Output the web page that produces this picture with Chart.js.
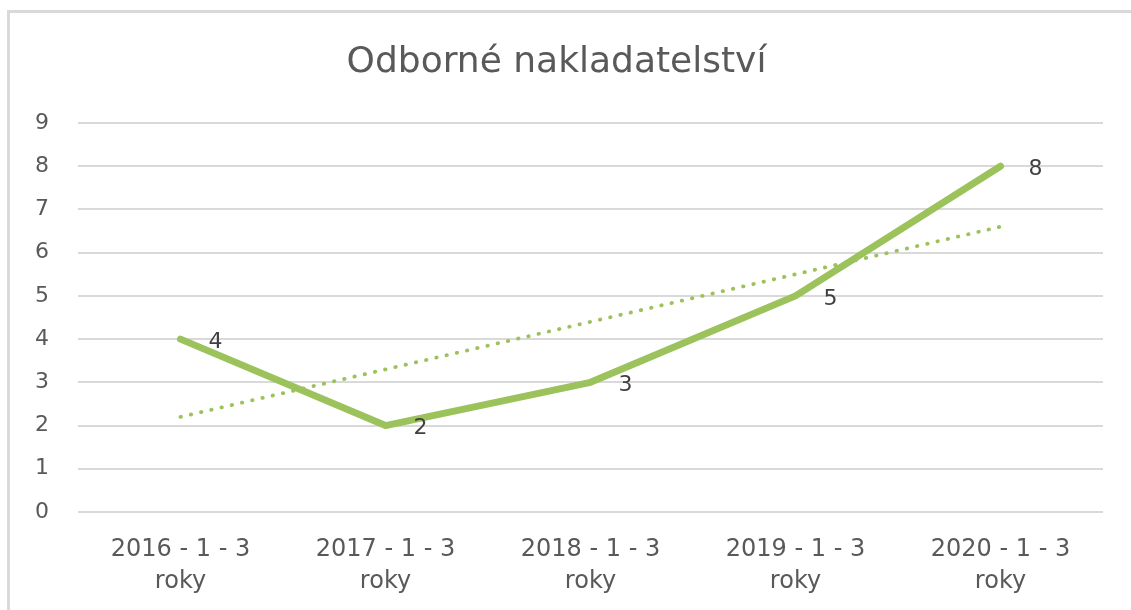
<!DOCTYPE html>
<html>
<head>
<meta charset="utf-8">
<script src="https://cdn.jsdelivr.net/npm/chart.js@4.4.0/dist/chart.umd.min.js"></script>
<style>
  html, body { margin: 0; padding: 0; background: #fff; }
  #frame {
    position: absolute; left: 7px; top: 10px; width: 1130px; height: 610px;
    border-left: 3px solid #d9d9d9; border-top: 3px solid #d9d9d9;
  }
  #wrap { position: absolute; left: 10px; top: 13px; width: 1121px; height: 597px; }
</style>
</head>
<body>
<div id="frame"></div>
<div id="wrap"><canvas id="chart"></canvas></div>
<script>
const chartTitle = 'Odborné nakladatelství';
const categories = [
    ['2016 - 1 - 3', 'roky'],
    ['2017 - 1 - 3', 'roky'],
    ['2018 - 1 - 3', 'roky'],
    ['2019 - 1 - 3', 'roky'],
    ['2020 - 1 - 3', 'roky']
];
const seriesValues = [4, 2, 3, 5, 8];
const trendValues = [2.2, 3.3, 4.4, 5.5, 6.6];
const yTicks = [0, 1, 2, 3, 4, 5, 6, 7, 8, 9];

const green = '#9cc25c';
const textGray = '#595959';
const fontFamily = '"DejaVu Sans", sans-serif';

// draws the value to the right of each point, like the original labels
const pointLabels = {
    id: 'pointLabels',
    afterDatasetsDraw(chart) {
        const ctx = chart.ctx;
        const meta = chart.getDatasetMeta(0);
        ctx.save();
        ctx.font = '22px ' + fontFamily;
        ctx.fillStyle = '#404040';
        ctx.textAlign = 'center';
        ctx.textBaseline = 'middle';
        meta.data.forEach((pt, i) => {
            ctx.fillText(String(seriesValues[i]), pt.x + 35, pt.y + 3);
        });
        ctx.restore();
    }
};

const ctx = document.getElementById('chart').getContext('2d');
new Chart(ctx, {
    type: 'line',
    data: {
        labels: categories,
        datasets: [{
            label: 'Odborné nakladatelství',
            data: seriesValues,
            borderColor: green,
            borderWidth: 7,
            pointRadius: 0,
            borderJoinStyle: 'round',
            borderCapStyle: 'round',
            tension: 0
        }, {
            label: 'trend',
            data: trendValues,
            borderColor: green,
            borderWidth: 3.8,
            borderDash: [0.5, 10],
            borderCapStyle: 'round',
            pointRadius: 0,
            tension: 0
        }]
    },
    options: {
        responsive: true,
        maintainAspectRatio: false,
        animation: false,
        layout: { padding: { left: 0, right: 28, top: 0, bottom: 0 } },
        plugins: {
            legend: { display: false },
            tooltip: { enabled: false },
            title: {
                display: true,
                text: chartTitle,
                color: textGray,
                font: { family: fontFamily, size: 36, weight: 'normal', lineHeight: 1.2 },
                padding: { top: 28.4, bottom: 38.4 }
            }
        },
        scales: {
            x: {
                offset: true,
                grid: { display: false },
                border: { display: false },
                afterFit(scale) { scale.height = 98; },
                ticks: {
                    color: textGray,
                    font: { family: fontFamily, size: 24, lineHeight: 1.33 },
                    padding: 14,
                    maxRotation: 0
                }
            },
            y: {
                min: 0,
                max: 9,
                afterBuildTicks(scale) {
                    scale.ticks = yTicks.map(v => ({ value: v }));
                },
                afterFit(scale) { scale.width = 68; },
                grid: { color: '#d9d9d9', lineWidth: 2, drawTicks: false },
                border: { display: false },
                ticks: {
                    color: textGray,
                    font: { family: fontFamily, size: 22 },
                    padding: 29
                }
            }
        }
    },
    plugins: [pointLabels]
});
</script>
</body>
</html>
